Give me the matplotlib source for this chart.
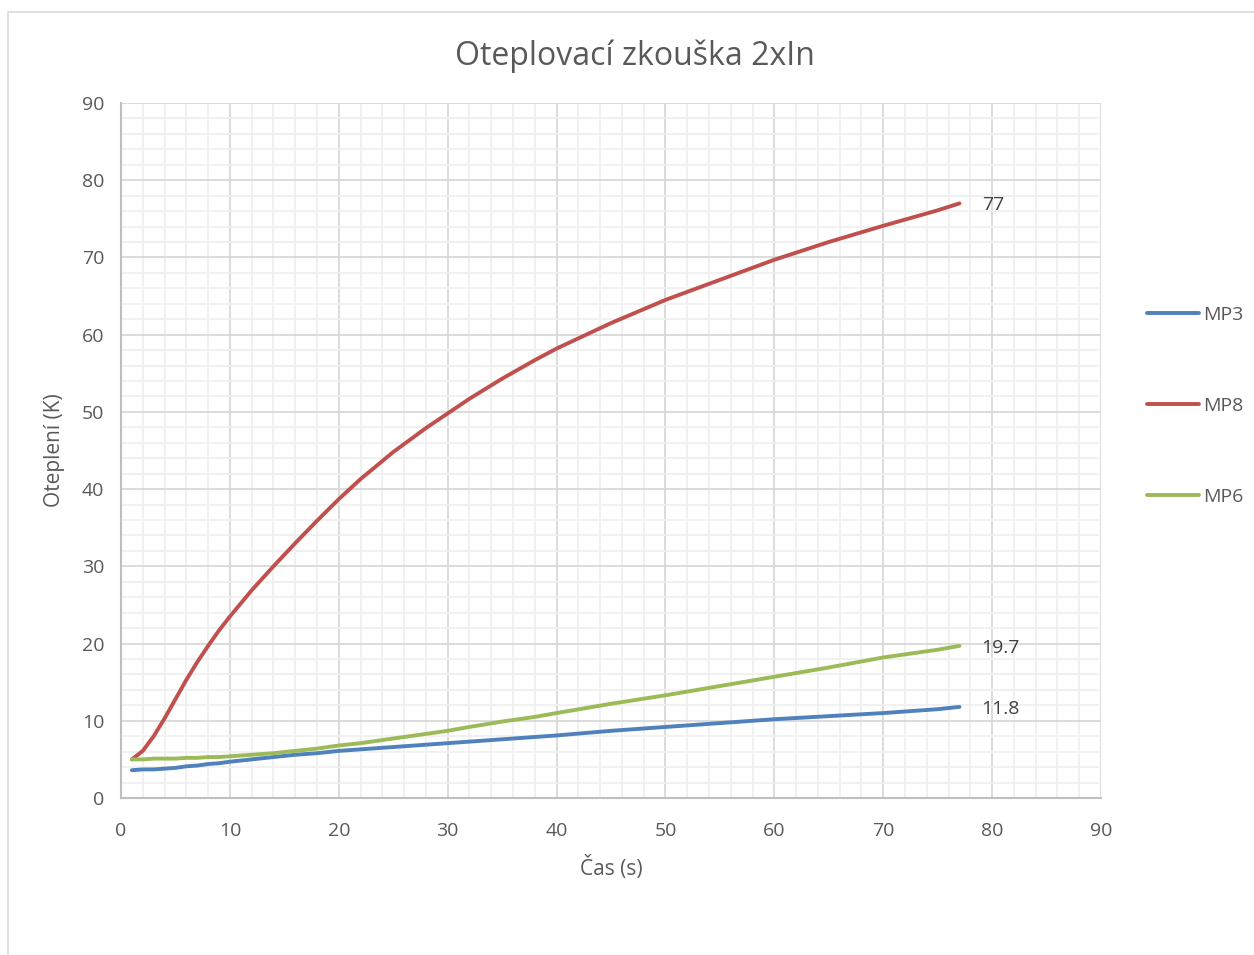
import matplotlib.pyplot as plt
from matplotlib.ticker import MultipleLocator
from matplotlib.patches import Rectangle

plt.rcParams['font.family'] = ['Open Sans', 'DejaVu Sans']

# values
cas = [1, 2, 3, 4, 5, 6, 7, 8, 9, 10, 12, 14, 16, 18, 20, 22, 25, 28, 30,
       32, 35, 38, 40, 45, 50, 55, 60, 65, 70, 75, 77]
mp8 = [5.0, 6.1, 8.0, 10.3, 12.8, 15.3, 17.6, 19.7, 21.7, 23.5, 26.9, 30.0,
       33.0, 35.9, 38.7, 41.3, 44.8, 47.9, 49.8, 51.7, 54.3, 56.7, 58.2,
       61.5, 64.5, 67.1, 69.7, 72.0, 74.1, 76.1, 77.0]
mp6 = [5.0, 5.0, 5.1, 5.1, 5.1, 5.2, 5.2, 5.3, 5.3, 5.4, 5.6, 5.8, 6.1,
       6.4, 6.8, 7.1, 7.7, 8.3, 8.7, 9.2, 9.9, 10.5, 11.0, 12.2, 13.3,
       14.5, 15.7, 16.9, 18.2, 19.2, 19.7]
mp3 = [3.6, 3.7, 3.7, 3.8, 3.9, 4.1, 4.2, 4.4, 4.5, 4.7, 5.0, 5.3, 5.6,
       5.8, 6.1, 6.3, 6.6, 6.9, 7.1, 7.3, 7.6, 7.9, 8.1, 8.7, 9.2, 9.7,
       10.2, 10.6, 11.0, 11.5, 11.8]

series = [("MP3", mp3, "#4f81bd"), ("MP8", mp8, "#c0504d"), ("MP6", mp6, "#9bbb59")]
txt = "#595959"

fig = plt.figure(figsize=(12.54, 9.55), dpi=100)
fig.patches.append(Rectangle((8 / 1254, -0.01), 1.02, 1 - 12 / 955 + 0.01,
                             transform=fig.transFigure, fill=False,
                             edgecolor="#d9d9d9", linewidth=1.2))
ax = fig.add_axes([121 / 1254, 1 - 798 / 955, 980 / 1254, 695 / 955])

lines = []
for name, vals, col in series:
    ln, = ax.plot(cas, vals, color=col, linewidth=2.8, label=name,
                  solid_capstyle="round", zorder=3)
    lines.append(ln)
    ax.annotate(f"{vals[-1]:g}", (cas[-1], vals[-1]), xytext=(16, -1.5),
                textcoords="offset points", va="center", ha="left",
                fontsize=14, color="#404040")

ax.set_xlim(0, 90)
ax.set_ylim(0, 90)
ax.xaxis.set_major_locator(MultipleLocator(10))
ax.yaxis.set_major_locator(MultipleLocator(10))
ax.xaxis.set_minor_locator(MultipleLocator(2))
ax.yaxis.set_minor_locator(MultipleLocator(2))
ax.grid(which="major", color="#d9d9d9", linewidth=1.3, zorder=1)
ax.grid(which="minor", color="#f0f0f0", linewidth=1.3, zorder=0)
ax.set_axisbelow(True)
ax.tick_params(which="both", length=0, labelsize=14, labelcolor=txt)
ax.tick_params(axis="x", pad=17)
ax.tick_params(axis="y", pad=12)
for s in ["top", "right"]:
    ax.spines[s].set_visible(False)
for s in ["left", "bottom"]:
    ax.spines[s].set_color("#bfbfbf")
    ax.spines[s].set_linewidth(1.5)

ax.set_xlabel("Čas (s)", fontsize=15, color=txt, labelpad=12)
ax.set_ylabel("Oteplení (K)", fontsize=15, color=txt, labelpad=12)
fig.text(635 / 1254, 1 - 56 / 955, "Oteplovací zkouška 2xIn", fontsize=23,
         color=txt, ha="center", va="center")

fig.legend(handles=lines, loc="upper left", bbox_to_anchor=(1139 / 1254, 1 - 298 / 955),
           frameon=False, fontsize=14, labelcolor=txt, handlelength=2.7,
           handletextpad=0.2, labelspacing=3.75, borderaxespad=0)

fig.savefig("out.png", dpi=100)
